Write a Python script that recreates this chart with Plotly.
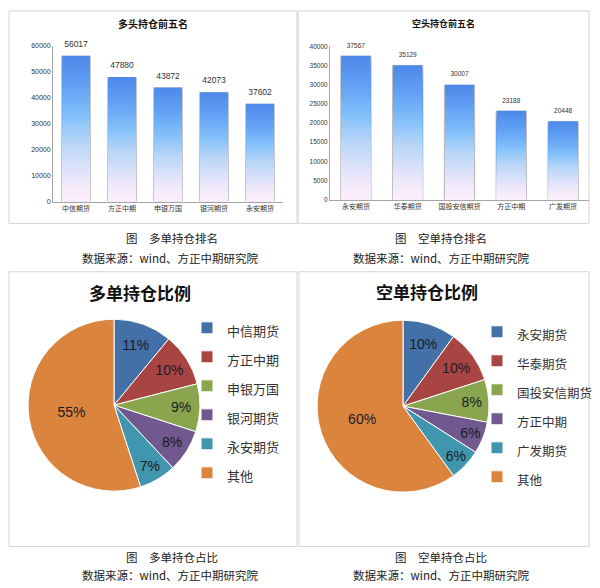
import plotly.graph_objects as go

W, H = 600, 588

# ---- data ----
long_names = ['中信期货', '方正中期', '申银万国', '银河期货', '永安期货']
long_values = [56017, 47880, 43872, 42073, 37602]
short_names = ['永安期货', '华泰期货', '国投安信期货', '方正中期', '广发期货']
short_values = [37567, 35129, 30007, 23188, 20448]

long_pie_labels = ['中信期货', '方正中期', '申银万国', '银河期货', '永安期货', '其他']
long_pie_pct = [11, 10, 9, 8, 7, 55]
short_pie_labels = ['永安期货', '华泰期货', '国投安信期货', '方正中期', '广发期货', '其他']
short_pie_pct = [10, 10, 8, 6, 6, 60]

pie_colors = ['#4470A8', '#A84442', '#89A54E', '#71588F', '#3F96AE', '#DB843D']

CJK = 'Noto Sans CJK SC'


def px(x):
    return x / W


def py(y):
    return 1 - y / H


# gradient stops for the bars, bottom -> top
stops = [(0.0, (255, 240, 251)), (0.15, (238, 232, 250)), (0.4, (188, 215, 248)),
         (0.6, (130, 192, 250)), (0.8, (98, 162, 244)), (1.0, (78, 138, 234))]


def grad(t):
    for (t0, c0), (t1, c1) in zip(stops[:-1], stops[1:]):
        if t <= t1:
            f = (t - t0) / (t1 - t0)
            c = [round(a + (b - a) * f) for a, b in zip(c0, c1)]
            return 'rgb(%d,%d,%d)' % tuple(c)
    return 'rgb(%d,%d,%d)' % stops[-1][1]


fig = go.Figure()


def add_bars(names, values, xa, ya, width, label_size):
    # grey edge behind each bar
    fig.add_trace(go.Bar(x=names, y=values, width=width + 0.045, marker_color='#BDBDBD',
                         marker_line_width=0, xaxis=xa, yaxis=ya, showlegend=False,
                         hoverinfo='skip'))
    # gradient: tallest (top colour) first, shorter ones painted over it
    n = 40
    for k in range(n, 0, -1):
        fig.add_trace(go.Bar(x=names, y=[v * k / n for v in values], width=width,
                             marker_color=grad(k / n), marker_line_width=0,
                             xaxis=xa, yaxis=ya, showlegend=False, hoverinfo='skip'))
    fig.add_trace(go.Scatter(x=names, y=values, mode='markers+text', text=[str(v) for v in values],
                             textposition='top center', cliponaxis=False,
                             marker=dict(size=9, opacity=0),
                             textfont=dict(size=label_size, color='#333333', family='Liberation Sans'),
                             xaxis=xa, yaxis=ya, showlegend=False, hoverinfo='skip'))


add_bars(long_names, long_values, 'x', 'y', 0.6, 8.5)
add_bars(short_names, short_values, 'x2', 'y2', 0.56, 6.5)


def legend_labels(labels, size):
    # markup differs per pie so the same names do not merge across the two legends
    return ['<span style="font-size:%spx">%s</span>' % (size, s) for s in labels]


fig.add_trace(go.Pie(
    labels=legend_labels(long_pie_labels, 13), values=long_pie_pct, sort=False,
    direction='clockwise', rotation=0,
    text=['%d%%' % p for p in long_pie_pct], textinfo='text', textposition='inside',
    insidetextorientation='horizontal',
    insidetextfont=dict(size=14, color='#1a1a24', family='Liberation Sans'),
    marker=dict(colors=pie_colors, line=dict(color='white', width=1)),
    domain=dict(x=[px(114 - 87), px(114 + 87)], y=[py(406 + 87), py(406 - 87)]),
    legend='legend', hoverinfo='skip'))

fig.add_trace(go.Pie(
    labels=legend_labels(short_pie_labels, 12.5), values=short_pie_pct, sort=False,
    direction='clockwise', rotation=0,
    text=['%d%%' % p for p in short_pie_pct], textinfo='text', textposition='inside',
    insidetextorientation='horizontal',
    insidetextfont=dict(size=14, color='#1a1a24', family='Liberation Sans'),
    marker=dict(colors=pie_colors, line=dict(color='white', width=1)),
    domain=dict(x=[px(403 - 87), px(403 + 87)], y=[py(407 + 87), py(407 - 87)]),
    legend='legend2', hoverinfo='skip'))

axis_common = dict(showgrid=False, zeroline=False, showline=True, linecolor='#A6A6A6',
                   linewidth=1, ticks='', fixedrange=True)

fig.update_layout(
    width=W, height=H, margin=dict(l=0, r=0, t=0, b=0),
    paper_bgcolor='white', plot_bgcolor='white', barmode='overlay',
    font=dict(family=CJK, color='#333333'),
    xaxis=dict(domain=[px(53), px(283)], range=[-0.5, 4.5], anchor='y',
               tickfont=dict(size=7, family=CJK, color='#333333'), **axis_common),
    yaxis=dict(domain=[py(200), py(42)], range=[0, 60000], tickvals=list(range(0, 60001, 10000)),
               tickformat='d', anchor='x',
               tickfont=dict(size=7, family='Liberation Sans', color='#333333'), **axis_common),
    xaxis2=dict(domain=[px(330), px(589)], range=[-0.5, 4.5], anchor='y2',
                tickfont=dict(size=7, family=CJK, color='#333333'), **axis_common),
    yaxis2=dict(domain=[py(198), py(43)], range=[0, 40000], tickvals=list(range(0, 40001, 5000)),
                tickformat='d', anchor='x2',
                tickfont=dict(size=6.5, family='Liberation Sans', color='#333333'), **axis_common),
    legend=dict(x=px(187), y=py(308), xanchor='left', yanchor='top',
                font=dict(size=20, family=CJK, color='#333333'), bgcolor='rgba(0,0,0,0)'),
    legend2=dict(x=px(477), y=py(312), xanchor='left', yanchor='top',
                 font=dict(size=20, family=CJK, color='#333333'), bgcolor='rgba(0,0,0,0)'),
)

# panel frames
for x0, y0, x1, y1 in [(9, 7, 297, 222), (298, 7, 589, 222), (9, 271, 297, 549), (299, 271, 589, 549)]:
    fig.add_shape(type='rect', xref='paper', yref='paper', x0=px(x0), y0=py(y0), x1=px(x1), y1=py(y1),
                  line=dict(color='#D4D4D4', width=1), layer='below')

texts = [
    ('多头持仓前五名', 153, 20, 10, True),
    ('空头持仓前五名', 443, 20, 9, True),
    ('多单持仓比例', 140, 292, 17, True),
    ('空单持仓比例', 427, 291, 17, True),
    ('图　多单持仓排名', 172, 237, 11.5, False),
    ('数据来源：wind、方正中期研究院', 170, 257, 11.5, False),
    ('图　空单持仓排名', 441, 237, 11.5, False),
    ('数据来源：wind、方正中期研究院', 441, 257, 11.5, False),
    ('图　多单持仓占比', 172, 560, 11.5, False),
    ('数据来源：wind、方正中期研究院', 170, 578, 11.5, False),
    ('图　空单持仓占比', 441, 560, 11.5, False),
    ('数据来源：wind、方正中期研究院', 441, 578, 11.5, False),
]
for t, x, y, size, bold in texts:
    fig.add_annotation(text='<b>%s</b>' % t if bold else t, x=px(x), y=py(y), xref='paper', yref='paper',
                       xanchor='center', yanchor='middle', showarrow=False,
                       font=dict(size=size, family=CJK, color='#111111' if bold else '#222222'))

fig.write_html("out.html", config={'displayModeBar': False},
               post_script="document.body.style.margin='0';")
